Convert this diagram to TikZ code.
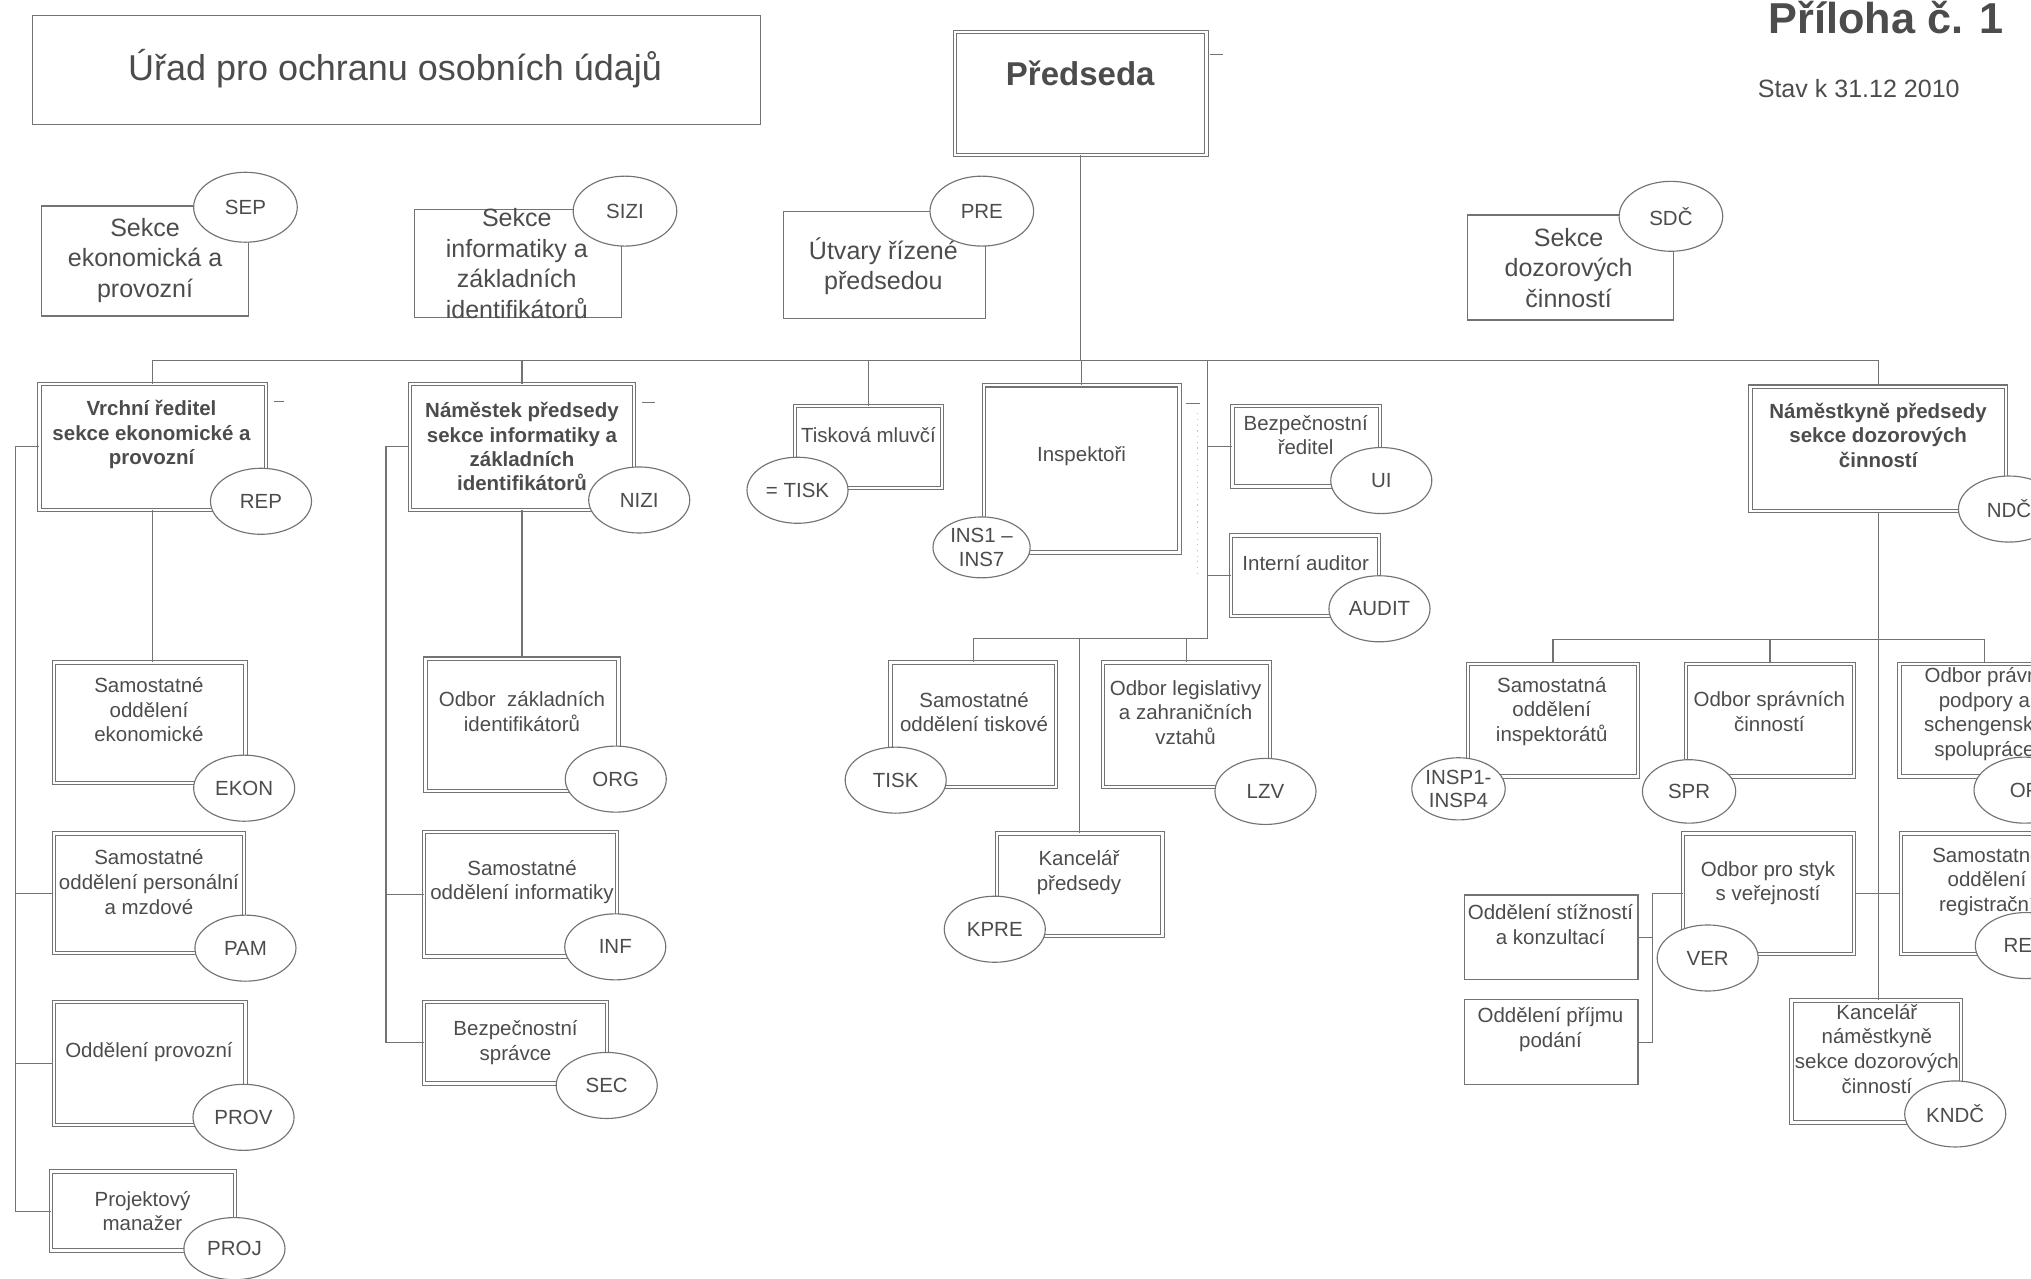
\documentclass[tikz,border=0pt]{standalone}
\usepackage{fontspec}
\setmainfont{Liberation Sans}
\usetikzlibrary{shapes.geometric}

\definecolor{ink}{gray}{0.3}
\definecolor{rule}{gray}{0.45}

\tikzset{
  every node/.style={text=ink},
  link/.style={draw=rule, line width=0.5pt},
  plainbox/.style={draw=rule, line width=0.5pt, rectangle, inner sep=0pt},
  unitbox/.style={draw=rule, line width=0.45pt, double=white, double distance=1pt, rectangle, inner sep=0pt},
  code/.style={draw=rule, line width=0.5pt, fill=white, ellipse, inner sep=0pt,
    minimum width=15.6mm, minimum height=10.2mm, align=center, font=\fontsize{9}{10.4}\selectfont},
  topcode/.style={code, minimum width=16mm, minimum height=10.8mm},
  caption/.style={align=center, font=\fontsize{9}{10.8}\selectfont},
  bigcaption/.style={align=center, font=\fontsize{11}{13.4}\selectfont},
  headcaption/.style={align=center, font=\bfseries\fontsize{9}{10.7}\selectfont},
}

\begin{document}
\begin{tikzpicture}[x=0.2mm, y=-0.2mm]
\useasboundingbox (0,0) rectangle (1568,987);

% head of the sheet
\node[plainbox, minimum width=112.4mm, minimum height=16.8mm] (urad) at (306,54) {};
\node[font=\fontsize{15.8}{19}\selectfont] (urad-t) at (305,53) {Úřad pro ochranu osobních údajů};
\node[font=\bfseries\fontsize{19}{22}\selectfont, anchor=base] (priloha) at (1456,26) {Příloha č. 1};
\node[font=\fontsize{11}{13}\selectfont, anchor=base] (stav) at (1435,75) {Stav k 31.12 2010};

\node[unitbox, minimum width=38.8mm, minimum height=19mm] (predseda) at (834.5,72) {};
\node[font=\bfseries\fontsize{14.5}{17}\selectfont] (predseda-t) at (834,57) {Předseda};

% sekce
\node[plainbox, minimum width=32mm, minimum height=17mm] (sep) at (112,201.5) {};
\node[bigcaption] (sep-t) at (112,201) {Sekce\\ekonomická a\\provozní};
\node[topcode] (sep-o) at (189.5,160) {SEP};

\node[plainbox, minimum width=32mm, minimum height=16.6mm] (sizi) at (400,203.5) {};
\node[bigcaption] (sizi-t) at (399,203.5) {Sekce\\informatiky a\\základních\\identifikátorů};
\node[topcode] (sizi-o) at (482.5,163) {SIZI};

\node[plainbox, minimum width=31.2mm, minimum height=16.6mm] (pre) at (683,204.5) {};
\node[bigcaption] (pre-t) at (682,205.5) {Útvary řízené\\předsedou};
\node[topcode] (pre-o) at (758,163) {PRE};

\node[plainbox, minimum width=31.8mm, minimum height=16.2mm] (sdc) at (1212.5,206.5) {};
\node[bigcaption] (sdc-t) at (1211,206.7) {Sekce\\dozorových\\činností};
\node[topcode] (sdc-o) at (1290,167) {SDČ};

% druha uroven
\node[unitbox, minimum width=35mm, minimum height=19.4mm] (rep) at (118,345) {};
\node[headcaption] (rep-t) at (117,335.5) {Vrchní ředitel\\sekce ekonomické a\\provozní};

\node[unitbox, minimum width=34.6mm, minimum height=19.4mm] (nizi) at (403,345) {};
\node[headcaption] (nizi-t) at (403,345) {Náměstek předsedy\\sekce informatiky a\\základních\\identifikátorů};

\node[unitbox, minimum width=22.8mm, minimum height=12.6mm] (tiskm) at (670.5,345) {};
\node[caption] (tiskm-t) at (670.5,336) {Tisková mluvčí};

\node[unitbox, minimum width=30.2mm, minimum height=25.8mm] (insp) at (835,362) {};
\node[caption] (insp-t) at (835,352) {Inspektoři};

\node[unitbox, minimum width=22.8mm, minimum height=12.4mm] (ui) at (1008.5,344.5) {};
\node[caption] (ui-t) at (1008,336) {Bezpečnostní\\ředitel};

\node[unitbox, minimum width=22.8mm, minimum height=12.4mm] (audit) at (1007.5,444.5) {};
\node[caption] (audit-t) at (1008,435) {Interní auditor};

\node[unitbox, minimum width=39.4mm, minimum height=19.2mm] (ndc) at (1450,346.5) {};
\node[headcaption] (ndc-t) at (1450,336) {Náměstkyně předsedy\\sekce dozorových\\činností};

% sekce ekonomicka a provozni
\node[unitbox, minimum width=29.6mm, minimum height=18.6mm] (ekon) at (115.5,558) {};
\node[caption] (ekon-t) at (115,548) {Samostatné\\oddělení\\ekonomické};
\node[unitbox, minimum width=29.4mm, minimum height=18.4mm] (pam) at (115,689.5) {};
\node[caption] (pam-t) at (115,681) {Samostatné\\oddělení personální\\a mzdové};
\node[unitbox, minimum width=29.6mm, minimum height=19mm] (prov) at (115.5,821) {};
\node[caption] (prov-t) at (115,812) {Oddělení provozní};
\node[unitbox, minimum width=28.4mm, minimum height=12.2mm] (proj) at (110.5,935) {};
\node[caption] (proj-t) at (110,935) {Projektový\\manažer};

% sekce informatiky
\node[unitbox, minimum width=29.8mm, minimum height=20.4mm] (org) at (403,559.5) {};
\node[caption] (org-t) at (403,549.5) {Odbor~ základních\\identifikátorů};
\node[unitbox, minimum width=29.8mm, minimum height=19.2mm] (inf) at (402,690.5) {};
\node[caption] (inf-t) at (403,681) {Samostatné\\oddělení informatiky};
\node[unitbox, minimum width=28.2mm, minimum height=12.6mm] (sec) at (398,805) {};
\node[caption] (sec-t) at (398,805) {Bezpečnostní\\správce};

% utvary predsedy
\node[unitbox, minimum width=25.6mm, minimum height=19.2mm] (tisko) at (751.5,559.5) {};
\node[caption] (tisko-t) at (752,549.7) {Samostatné\\oddělení tiskové};
\node[unitbox, minimum width=25.8mm, minimum height=19.2mm] (lzv) at (916,559.5) {};
\node[caption] (lzv-t) at (915.3,550) {Odbor legislativy\\a zahraničních\\vztahů};
\node[unitbox, minimum width=25.6mm, minimum height=15.8mm] (kpre) at (833.5,683) {};
\node[caption] (kpre-t) at (833,673.6) {Kancelář\\předsedy};

% sekce dozorovych cinnosti
\node[unitbox, minimum width=26.2mm, minimum height=17.4mm] (inspo) at (1199,556) {};
\node[caption] (inspo-t) at (1198,549.3) {Samostatná\\oddělení\\inspektorátů};
\node[unitbox, minimum width=26mm, minimum height=17.4mm] (spr) at (1366.5,556) {};
\node[caption] (spr-t) at (1366,549.4) {Odbor správních\\činností};
\node[unitbox, minimum width=26.2mm, minimum height=17.4mm] (op) at (1532,556) {};
\node[caption] (op-t) at (1532,551.4) {Odbor právní\\podpory a\\schengenské\\spolupráce};
\node[unitbox, minimum width=26.4mm, minimum height=18.6mm] (ver) at (1365.5,690) {};
\node[caption] (ver-t) at (1365,681.8) {Odbor pro styk\\s veřejností};
\node[unitbox, minimum width=26.2mm, minimum height=18.6mm] (reg) at (1533,690) {};
\node[caption] (reg-t) at (1534,680.5) {Samostatné\\oddělení\\registrační};
\node[plainbox, minimum width=26.8mm, minimum height=13mm] (stiz) at (1197.6,723.5) {};
\node[caption] (stiz-t) at (1197,714) {Oddělení stížností\\a konzultací};
\node[plainbox, minimum width=26.8mm, minimum height=13.1mm] (prij) at (1197.6,804.7) {};
\node[caption] (prij-t) at (1197,795) {Oddělení příjmu\\podání};
\node[unitbox, minimum width=26.2mm, minimum height=18.8mm] (kndc) at (1448.5,819.5) {};
\node[caption] (kndc-t) at (1449,809.7) {Kancelář\\náměstkyně\\sekce dozorových\\činností};

% spoje
\coordinate (bus) at (834.5,278);
\draw[link] (predseda.south) -- (bus);
\draw[link] (rep.north) |- (bus) -| (ndc.north);
\draw[link] (nizi.north) -- (nizi.north |- bus);
\draw[link] (tiskm.north) -- (tiskm.north |- bus);
\draw[link] (insp.north) -- (insp.north |- bus);

\coordinate (rv) at (932,278);
\coordinate (rv-end) at (932,493);
\draw[link] (rv) -- (rv-end) -| (tisko.north);
\draw[link] (kpre.north) -- (kpre.north |- rv-end);
\draw[link] (lzv.north) -- (lzv.north |- rv-end);
\draw[link] (ui.west) -- (ui.west -| rv);
\draw[link] (audit.west) -- (audit.west -| rv);

\coordinate (spine-l) at (12,345);
\draw[link] (rep.west) -- (spine-l) |- (proj.west);
\draw[link] (pam.west) -- (pam.west -| spine-l);
\draw[link] (prov.west) -- (prov.west -| spine-l);
\draw[link] (rep.south) -- (rep.south |- ekon.north);

\coordinate (spine-n) at (298,345);
\draw[link] (nizi.west) -- (spine-n) |- (sec.west);
\draw[link] (inf.west) -- (inf.west -| spine-n);
\draw[link] (nizi.south) -- (nizi.south |- org.north);

\coordinate (bus-d) at (1450,494);
\draw[link] (ndc.south) -- (ndc.south |- kndc.north);
\draw[link] (inspo.north) |- (bus-d) -| (op.north);
\draw[link] (spr.north) -- (spr.north |- bus-d);
\draw[link] (ver.east) -- (reg.west);
\coordinate (spine-v) at (1276,690);
\draw[link] (ver.west) -- (spine-v) |- (prij.east);
\draw[link] (stiz.east) -- (stiz.east -| spine-v);

% carky vedle ramecku
\draw[link] (predseda.north east) ++(2,18) -- ++(10,0);
\draw[link] (rep.north east) ++(6,14) -- ++(7,0);
\draw[link] (nizi.north east) ++(6,14.5) -- ++(10,0);
\draw[link] (insp.north east) ++(4.5,14.5) -- ++(11,0);
\draw[draw=rule!45, line width=0.5pt, dotted] (insp.north east) ++(13.5,22) -- ++(0,124);

% zkratky
\node[code] (rep-o) at (201.5,387) {REP};
\node[code] (nizi-o) at (493.5,386) {NIZI};
\node[code] (tiskm-o) at (615.7,378.5) {= TISK};
\node[code, minimum width=15mm, minimum height=9.4mm] (insp-o) at (757.8,422.6) {INS1 --\\INS7};
\node[code] (ui-o) at (1066.4,371) {UI};
\node[code] (audit-o) at (1065,470) {AUDIT};
\node[code] (ndc-o) at (1551,393) {NDČ};
\node[code] (ekon-o) at (188.5,608.5) {EKON};
\node[code] (pam-o) at (189.5,732) {PAM};
\node[code] (prov-o) at (188,862.6) {PROV};
\node[code, minimum height=9.6mm] (proj-o) at (181,964) {PROJ};
\node[code] (org-o) at (475.4,601.5) {ORG};
\node[code] (inf-o) at (475,731) {INF};
\node[code] (sec-o) at (468.4,838) {SEC};
\node[code] (tisko-o) at (691.5,602.3) {TISK};
\node[code] (lzv-o) at (977,611) {LZV};
\node[code] (kpre-o) at (768,717.4) {KPRE};
\node[code, minimum width=14.4mm, minimum height=9.6mm] (inspo-o) at (1126,609) {INSP1-\\INSP4};
\node[code, minimum width=14.4mm, minimum height=9.8mm] (spr-o) at (1304,611) {SPR};
\node[code] (op-o) at (1563,610) {OP};
\node[code] (ver-o) at (1318.4,739.6) {VER};
\node[code] (reg-o) at (1564,730) {REG};
\node[code] (kndc-o) at (1509.5,860) {KNDČ};
\end{tikzpicture}
\end{document}
